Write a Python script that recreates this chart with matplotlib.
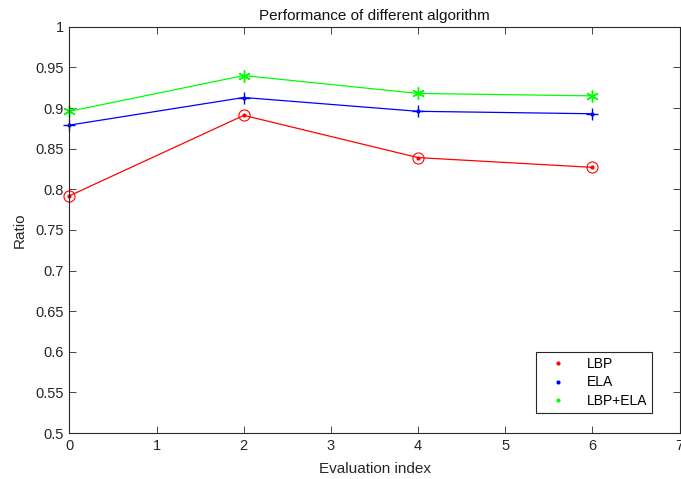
import numpy as np
import matplotlib
matplotlib.use("Agg")
import matplotlib.pyplot as plt

plt.rcParams["font.family"] = ["Liberation Sans", "DejaVu Sans"]

idx = [0, 2, 4, 6]
lbp = [0.792, 0.891, 0.839, 0.827]
ela = [0.879, 0.913, 0.896, 0.893]
lbp_ela = [0.896, 0.940, 0.918, 0.915]

fig = plt.figure(figsize=(6.81, 4.79), dpi=100)
ax = fig.add_axes([0.102, 0.096, 0.896, 0.848])

# dots first (these are the legend entries), then lines with markers
ax.plot(idx, lbp, "r.", markersize=4, label="LBP", clip_on=False)
ax.plot(idx, ela, "b.", markersize=4, label="ELA", clip_on=False)
ax.plot(idx, lbp_ela, ".", color="#00ff00", markersize=4, label="LBP+ELA", clip_on=False)
ax.plot(idx, lbp, "r-o", markersize=8, mfc="none", lw=0.9, mew=0.8, clip_on=False)
ax.plot(idx, ela, "b-+", markersize=9, lw=0.9, mew=1.0, clip_on=False)
ax.plot(idx, lbp_ela, "-", color="#00ff00", marker=(6, 2, 0), markersize=9,
        lw=0.9, mew=1.0, clip_on=False)

ax.set_xlim(0, 7)
ax.set_ylim(0.5, 1)
ax.set_xticks(range(8))
yt = np.round(np.arange(0.5, 1.001, 0.05), 2)
ax.set_yticks(yt)
ax.set_yticklabels([f"{v:g}" for v in yt])
ax.tick_params(direction="in", top=True, right=True, length=5, width=0.6,
               colors="#262626", labelsize=10.5, pad=4)
for s in ax.spines.values():
    s.set_color("#262626")
    s.set_linewidth(0.8)

ax.set_title("Performance of different algorithm", fontsize=11, color="#111111", pad=5)
ax.set_xlabel("Evaluation index", fontsize=11, color="#262626", labelpad=7)
ax.set_ylabel("Ratio", fontsize=11, color="#262626", labelpad=6)

leg = ax.legend(loc="lower right", bbox_to_anchor=(0.955, 0.049), fontsize=10,
                fancybox=False, edgecolor="#262626", framealpha=1,
                handlelength=2.4, handletextpad=0.9, borderpad=0.35, labelspacing=0.35,
                borderaxespad=0)
leg.get_frame().set_linewidth(0.8)

fig.savefig("out.png", dpi=100)
